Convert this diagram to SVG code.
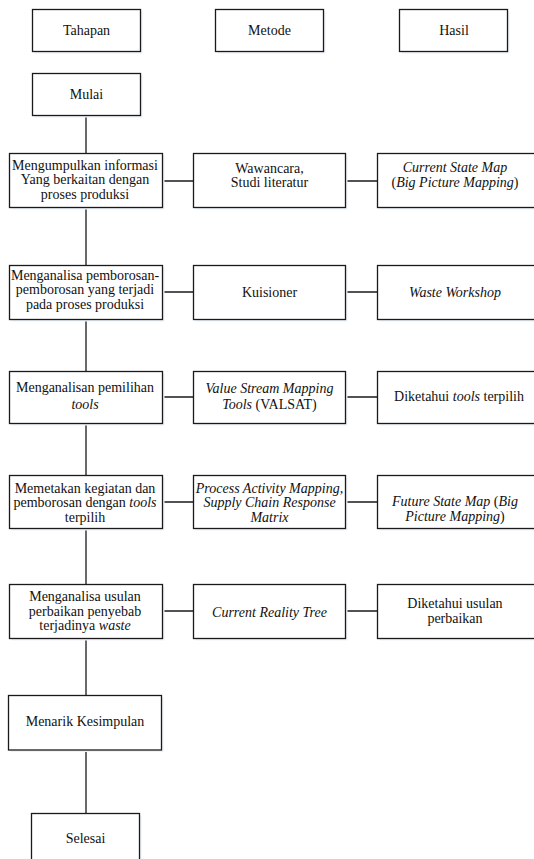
<svg xmlns="http://www.w3.org/2000/svg" width="534" height="859" viewBox="0 0 534 859" font-family="Liberation Serif, Times New Roman, serif" font-size="14">
<style>
.box{fill:#fff;stroke:#1a1a1a;stroke-width:1.3}
.sh{fill:#edf2f9;stroke:none}
.c{fill:none;stroke:#1a1a1a;stroke-width:1.3}
text{fill:#111;text-anchor:middle}
.i{font-style:italic}
</style>
<rect width="534" height="859" fill="#fff"/>
<g id="connectors">
<path class="c" d="M86 115.5V153.5M86 207.5V265.5M86 319.5V371.5M86 423.5V475.5M86 528.5V584.5M86 638.5V695.5M86 750V813.5"/>
<path class="c" d="M162 181H193.5M345.5 181H377.5M162 292H193.5M345.5 292H377.5M162 397H193.5M345.5 397H377.5M162 502H193.5M345.5 502H377.5M162 611H193.5M345.5 611H377.5"/>
</g>
<g id="h-tahapan"><rect class="sh" x="34.5" y="11.5" width="108" height="42"/><rect class="box" x="32.5" y="9.5" width="108" height="42"/><text x="86.5" y="35.3">Tahapan</text></g>
<g id="h-metode"><rect class="sh" x="217.5" y="11.5" width="108" height="42"/><rect class="box" x="215.5" y="9.5" width="108" height="42"/><text x="269.5" y="35.3">Metode</text></g>
<g id="h-hasil"><rect class="sh" x="401.5" y="11.5" width="108" height="42"/><rect class="box" x="399.5" y="9.5" width="108" height="42"/><text x="454" y="35.3">Hasil</text></g>
<g id="mulai"><rect class="sh" x="34.5" y="75.5" width="108" height="42"/><rect class="box" x="32.5" y="73.5" width="108" height="42"/><text x="86.5" y="99">Mulai</text></g>

<g id="t1"><rect class="sh" x="11.5" y="155.5" width="153" height="54"/><rect class="box" x="9.5" y="153.5" width="153" height="54"/>
<text x="85" y="170">Mengumpulkan informasi</text><text x="85" y="184.3">Yang berkaitan dengan</text><text x="85" y="198.5">proses produksi</text></g>
<g id="m1"><rect class="sh" x="195.5" y="155.5" width="152" height="54"/><rect class="box" x="193.5" y="153.5" width="152" height="54"/>
<text x="269.5" y="172.7">Wawancara,</text><text x="269.5" y="187">Studi literatur</text></g>
<g id="r1"><rect class="sh" x="379.5" y="155.5" width="160" height="54"/><rect class="box" x="377.5" y="153.5" width="160" height="54"/>
<text x="455" y="172" class="i">Current State Map</text><text x="455" y="186.5">(<tspan class="i">Big Picture Mapping</tspan>)</text></g>

<g id="t2"><rect class="sh" x="11.5" y="267.5" width="153" height="54"/><rect class="box" x="9.5" y="265.5" width="153" height="54"/>
<text x="85" y="280">Menganalisa pemborosan-</text><text x="85" y="294.3">pemborosan yang terjadi</text><text x="85" y="308.5">pada proses produksi</text></g>
<g id="m2"><rect class="sh" x="195.5" y="267.5" width="152" height="54"/><rect class="box" x="193.5" y="265.5" width="152" height="54"/>
<text x="269.5" y="297">Kuisioner</text></g>
<g id="r2"><rect class="sh" x="379.5" y="267.5" width="160" height="54"/><rect class="box" x="377.5" y="265.5" width="160" height="54"/>
<text x="455" y="297.3" class="i">Waste Workshop</text></g>

<g id="t3"><rect class="sh" x="11.5" y="373.5" width="153" height="52"/><rect class="box" x="9.5" y="371.5" width="153" height="52"/>
<text x="85" y="392">Menganalisan pemilihan</text><text x="85" y="408.5" class="i">tools</text></g>
<g id="m3"><rect class="sh" x="195.5" y="373.5" width="152" height="52"/><rect class="box" x="193.5" y="371.5" width="152" height="52"/>
<text x="269.5" y="392.5" class="i">Value Stream Mapping</text><text x="269.5" y="409"><tspan class="i">Tools</tspan> (VALSAT)</text></g>
<g id="r3"><rect class="sh" x="379.5" y="373.5" width="160" height="52"/><rect class="box" x="377.5" y="371.5" width="160" height="52"/>
<text x="459" y="400.5">Diketahui <tspan class="i">tools</tspan> terpilih</text></g>

<g id="t4"><rect class="sh" x="11.5" y="477.5" width="153" height="53"/><rect class="box" x="9.5" y="475.5" width="153" height="53"/>
<text x="85" y="492.5">Memetakan kegiatan dan</text><text x="85" y="507">pemborosan dengan <tspan class="i">tools</tspan></text><text x="85" y="521.5">terpilih</text></g>
<g id="m4"><rect class="sh" x="195.5" y="477.5" width="152" height="53"/><rect class="box" x="193.5" y="475.5" width="152" height="53"/>
<text x="269.5" y="492.5" class="i">Process Activity Mapping,</text><text x="269.5" y="507" class="i">Supply Chain Response</text><text x="269.5" y="521.5" class="i">Matrix</text></g>
<g id="r4"><rect class="sh" x="379.5" y="477.5" width="160" height="53"/><rect class="box" x="377.5" y="475.5" width="160" height="53"/>
<text x="455" y="506"><tspan class="i">Future State Map</tspan> (<tspan class="i">Big</tspan></text><text x="455" y="521"><tspan class="i">Picture Mapping</tspan>)</text></g>

<g id="t5"><rect class="sh" x="11.5" y="586.5" width="153" height="54"/><rect class="box" x="9.5" y="584.5" width="153" height="54"/>
<text x="85" y="601">Menganalisa usulan</text><text x="85" y="615.5">perbaikan penyebab</text><text x="85" y="630">terjadinya <tspan class="i">waste</tspan></text></g>
<g id="m5"><rect class="sh" x="195.5" y="586.5" width="152" height="54"/><rect class="box" x="193.5" y="584.5" width="152" height="54"/>
<text x="269.5" y="616.5" class="i">Current Reality Tree</text></g>
<g id="r5"><rect class="sh" x="379.5" y="586.5" width="160" height="54"/><rect class="box" x="377.5" y="584.5" width="160" height="54"/>
<text x="455" y="607.5">Diketahui usulan</text><text x="455" y="622.5">perbaikan</text></g>

<g id="kesimpulan"><rect class="sh" x="10.5" y="697.5" width="153" height="54.5"/><rect class="box" x="8.5" y="695.5" width="153" height="54.5"/>
<text x="85" y="725.5">Menarik Kesimpulan</text></g>
<g id="selesai"><rect class="sh" x="33.5" y="815.5" width="108" height="50"/><rect class="box" x="31.5" y="813.5" width="108" height="50"/>
<text x="85.5" y="842.5">Selesai</text></g>
</svg>
